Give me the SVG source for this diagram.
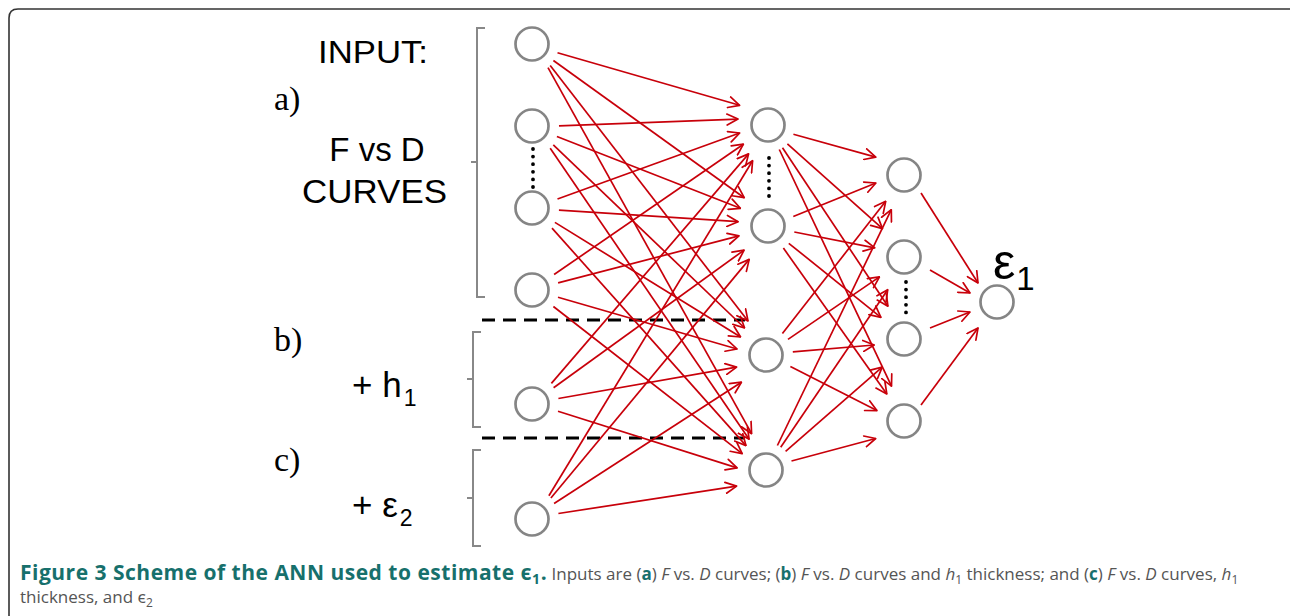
<svg xmlns="http://www.w3.org/2000/svg" width="1290" height="616" viewBox="0 0 1290 616">
  <defs>
    <marker id="arrow" viewBox="0 0 13 13" refX="12" refY="6.5" markerWidth="13" markerHeight="13" markerUnits="userSpaceOnUse" orient="auto">
      <path d="M1,1 L12,6.5 L1,12" fill="none" stroke="#c8000a" stroke-width="1.7" stroke-linecap="round" stroke-linejoin="round"/>
    </marker>
    <style>
      .frame { fill: none; stroke: #333; stroke-width: 1.6; }
      .node { fill: #fff; stroke: #858585; stroke-width: 2.7; }
      .edge { stroke: #c8000a; stroke-width: 1.7; fill: none; marker-end: url(#arrow); }
      .dots { stroke: #000; stroke-width: 3.8; stroke-linecap: round; stroke-dasharray: 0 7.6; }
      .sep { stroke: #000; stroke-width: 3; stroke-dasharray: 13 8; }
      .brace { fill: none; stroke: #888; stroke-width: 2; }
      .sans { font-family: "Liberation Sans", Arial, sans-serif; fill: #000; }
      .serif { font-family: "Liberation Serif", "Times New Roman", serif; fill: #000; }
      .cap { font-family: "Open Sans", "Noto Sans", sans-serif; font-size: 17px; fill: #555; }
      .hd { font-weight: bold; fill: #17706c; }
      .big { font-size: 21px; letter-spacing: 0.5px; }
      .it { font-style: italic; }
    </style>
  </defs>

  <!-- outer frame -->
  <path class="frame" d="M1295,9 H18 Q9,9 9,18 V620"/>

  <!-- input labels -->
  <g id="labels">
    <text class="sans" x="318" y="63" font-size="32" textLength="110" lengthAdjust="spacingAndGlyphs">INPUT:</text>
    <text class="serif" x="274" y="110" font-size="34">a)</text>
    <text class="sans" x="377" y="161" font-size="33" text-anchor="middle">F vs D</text>
    <text class="sans" x="302" y="203" font-size="33" textLength="145" lengthAdjust="spacingAndGlyphs">CURVES</text>
    <text class="serif" x="274" y="351" font-size="34">b)</text>
    <text class="sans" x="352" y="397" font-size="35">+ h<tspan font-size="23" dx="2" dy="9">1</tspan></text>
    <text class="serif" x="274" y="471" font-size="34">c)</text>
    <text class="sans" x="352" y="517" font-size="35">+ ε<tspan font-size="23" dx="2" dy="9">2</tspan></text>
    <text class="sans" x="993" y="279" font-size="50">ε<tspan font-size="33" dx="1" dy="11">1</tspan></text>
  </g>

  <!-- input group braces -->
  <g id="braces">
    <path class="brace" d="M485,28 H477 V297 H485 M477,162 H471"/>
    <path class="brace" d="M481,332 H473 V427 H481 M473,379 H467"/>
    <path class="brace" d="M481,450 H473 V546 H481 M473,498 H467"/>
  </g>

  <!-- separators between input sets -->
  <g id="separators">
    <line class="sep" x1="482" y1="320" x2="745" y2="320"/>
    <line class="sep" x1="482" y1="438" x2="745" y2="438"/>
  </g>

  <!-- connections -->
  <g id="connectors">
    <!-- input layer to hidden layer 1 -->
    <line class="edge" x1="557.5" y1="52.8" x2="739.6" y2="105.3"/>
    <line class="edge" x1="553.4" y1="60.5" x2="744.2" y2="197.7"/>
    <line class="edge" x1="550.2" y1="65.6" x2="748.0" y2="321.0"/>
    <line class="edge" x1="548.0" y1="67.7" x2="751.6" y2="433.7"/>

    <line class="edge" x1="559.0" y1="125.9" x2="738.0" y2="119.1"/>
    <line class="edge" x1="556.9" y1="136.5" x2="740.4" y2="208.3"/>
    <line class="edge" x1="553.3" y1="144.9" x2="744.6" y2="328.0"/>
    <line class="edge" x1="550.2" y1="148.3" x2="749.1" y2="439.2"/>

    <line class="edge" x1="557.5" y1="199.0" x2="739.7" y2="133.0"/>
    <line class="edge" x1="558.9" y1="210.1" x2="738.1" y2="221.7"/>
    <line class="edge" x1="554.9" y1="222.4" x2="740.6" y2="337.0"/>
    <line class="edge" x1="552.0" y1="228.1" x2="746.0" y2="445.6"/>

    <line class="edge" x1="554.1" y1="274.5" x2="743.4" y2="144.2"/>
    <line class="edge" x1="558.1" y1="282.9" x2="739.0" y2="235.9"/>
    <line class="edge" x1="558.0" y1="297.2" x2="737.1" y2="349.0"/>
    <line class="edge" x1="553.4" y1="306.5" x2="742.2" y2="453.7"/>

    <line class="edge" x1="551.4" y1="383.4" x2="748.6" y2="153.9"/>
    <line class="edge" x1="553.6" y1="387.7" x2="744.1" y2="250.1"/>
    <line class="edge" x1="558.4" y1="398.5" x2="736.6" y2="367.1"/>
    <line class="edge" x1="558.0" y1="411.3" x2="737.1" y2="467.9"/>

    <line class="edge" x1="548.9" y1="495.8" x2="752.6" y2="160.7"/>
    <line class="edge" x1="550.9" y1="498.0" x2="749.2" y2="259.4"/>
    <line class="edge" x1="554.1" y1="503.5" x2="741.4" y2="382.2"/>
    <line class="edge" x1="558.4" y1="513.5" x2="736.6" y2="486.1"/>

    <!-- hidden layer 1 to hidden layer 2 -->
    <line class="edge" x1="793.4" y1="134.3" x2="875.8" y2="157.1"/>
    <line class="edge" x1="787.4" y1="143.8" x2="882.5" y2="228.6"/>
    <line class="edge" x1="782.5" y1="147.8" x2="887.9" y2="306.2"/>
    <line class="edge" x1="779.3" y1="149.5" x2="891.5" y2="386.2"/>

    <line class="edge" x1="793.3" y1="216.5" x2="875.9" y2="183.0"/>
    <line class="edge" x1="794.3" y1="232.0" x2="874.8" y2="247.8"/>
    <line class="edge" x1="788.8" y1="243.3" x2="880.9" y2="317.3"/>
    <line class="edge" x1="783.4" y1="248.1" x2="886.8" y2="393.9"/>

    <line class="edge" x1="782.4" y1="333.6" x2="885.7" y2="201.3"/>
    <line class="edge" x1="788.0" y1="339.4" x2="879.5" y2="276.9"/>
    <line class="edge" x1="792.8" y1="351.9" x2="874.2" y2="345.0"/>
    <line class="edge" x1="790.4" y1="366.6" x2="876.9" y2="410.6"/>

    <line class="edge" x1="777.4" y1="445.5" x2="891.3" y2="209.7"/>
    <line class="edge" x1="780.7" y1="447.3" x2="887.7" y2="289.7"/>
    <line class="edge" x1="785.6" y1="451.4" x2="882.2" y2="367.1"/>
    <line class="edge" x1="791.5" y1="461.0" x2="875.7" y2="438.5"/>

    <!-- hidden layer 2 to output -->
    <line class="edge" x1="921" y1="193" x2="978" y2="283"/>
    <line class="edge" x1="930" y1="270" x2="970" y2="293"/>
    <line class="edge" x1="930" y1="328" x2="970" y2="312"/>
    <line class="edge" x1="921" y1="405" x2="978" y2="328"/>
  </g>

  <!-- input layer -->
  <g id="input-layer">
    <circle id="in1" class="node" cx="532" cy="44" r="16.5"/>
    <circle id="in2" class="node" cx="532" cy="126" r="16.5"/>
    <circle id="in3" class="node" cx="532" cy="208" r="16.5"/>
    <circle id="in4" class="node" cx="532" cy="290" r="16.5"/>
    <circle id="in5" class="node" cx="532" cy="404" r="16.5"/>
    <circle id="in6" class="node" cx="532" cy="519" r="16.5"/>
    <line class="dots" x1="533" y1="149" x2="533" y2="187"/>
  </g>

  <!-- hidden layer 1 -->
  <g id="hidden-layer-1">
    <circle id="h1a" class="node" cx="768" cy="125" r="16.5"/>
    <circle id="h1b" class="node" cx="768" cy="226" r="16.5"/>
    <circle id="h1c" class="node" cx="766" cy="355" r="16.5"/>
    <circle id="h1d" class="node" cx="766" cy="470" r="16.5"/>
    <line class="dots" x1="769" y1="158" x2="769" y2="196"/>
  </g>

  <!-- hidden layer 2 -->
  <g id="hidden-layer-2">
    <circle id="h2a" class="node" cx="904" cy="175" r="16.5"/>
    <circle id="h2b" class="node" cx="904" cy="257" r="16.5"/>
    <circle id="h2c" class="node" cx="904" cy="339" r="16.5"/>
    <circle id="h2d" class="node" cx="904" cy="421" r="16.5"/>
    <line class="dots" x1="906" y1="282" x2="906" y2="319"/>
  </g>

  <!-- output -->
  <g id="output-node">
    <circle id="out" class="node" cx="997" cy="302" r="16.5"/>
  </g>

  <!-- caption -->
  <g id="caption">
    <text class="cap" x="20" y="580"><tspan class="hd big">Figure 3 Scheme of the ANN used to estimate ϵ<tspan font-size="14" dy="4">1</tspan><tspan dy="-4">.</tspan></tspan> Inputs are (<tspan class="hd">a</tspan>) <tspan class="it">F</tspan> vs. <tspan class="it">D</tspan> curves; (<tspan class="hd">b</tspan>) <tspan class="it">F</tspan> vs. <tspan class="it">D</tspan> curves and <tspan class="it">h</tspan><tspan font-size="12" dy="4">1</tspan><tspan dy="-4"> thickness; and (</tspan><tspan class="hd">c</tspan>) <tspan class="it">F</tspan> vs. <tspan class="it">D</tspan> curves, <tspan class="it">h</tspan><tspan font-size="12" dy="4">1</tspan></text>
    <text class="cap" x="20" y="603">thickness, and ϵ<tspan font-size="12" dy="4">2</tspan></text>
  </g>
</svg>
